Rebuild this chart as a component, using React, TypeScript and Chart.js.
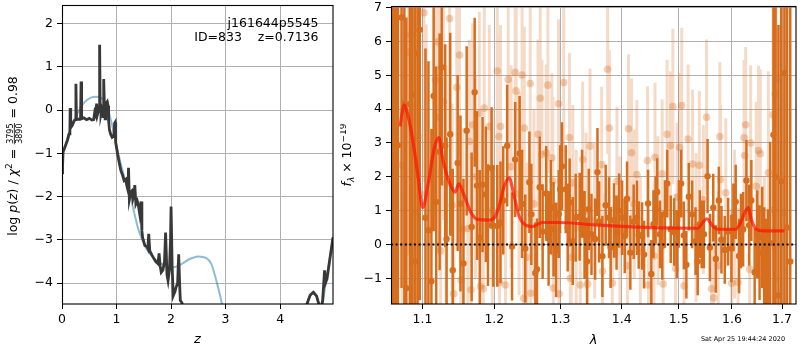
import React, { useEffect, useRef } from 'react';
import { Chart, registerables } from 'chart.js';

Chart.register(...registerables);

// ---------------- Left panel: log p(z) ----------------
const leftXTicks = [0, 1, 2, 3, 4];
const leftYTicks = [-4, -3, -2, -1, 0, 1, 2];

const pzZ = [
  0.00, 0.01, 0.02, 0.04, 0.07, 0.10, 0.13, 0.145, 0.15, 0.16,
  0.19, 0.22, 0.245, 0.255, 0.265, 0.29, 0.34, 0.35, 0.36, 0.40,
  0.45, 0.50, 0.55, 0.58, 0.60, 0.62, 0.635, 0.65, 0.67, 0.685,
  0.69, 0.70, 0.715, 0.73, 0.755, 0.765, 0.78, 0.79, 0.80, 0.83,
  0.845, 0.855, 0.87, 0.89, 0.92, 0.95, 0.965, 0.975, 0.985, 1.02,
  1.05, 1.08, 1.11, 1.14, 1.17, 1.19, 1.21, 1.22, 1.235, 1.26,
  1.28, 1.30, 1.32, 1.335, 1.355, 1.38, 1.40, 1.425, 1.45, 1.465,
  1.48, 1.52, 1.555, 1.575, 1.59, 1.61, 1.65, 1.68, 1.72, 1.76,
  1.78, 1.80, 1.82, 1.85, 1.88, 1.90, 1.925, 1.945, 1.97, 1.99,
  2.00, 2.02, 2.04, 2.07, 2.09, 2.12, 2.14, 2.16, 2.17, 2.20,
  2.22, 2.30, 2.50, 3.50, 4.30, 4.45, 4.50, 4.55, 4.61, 4.67,
  4.71, 4.75, 4.78, 4.80, 4.815, 4.83, 4.86, 4.90, 4.94, 4.97,
];
const pzLog = [
  -1.45, -1.30, -0.95, -0.90, -0.80, -0.70, -0.55, -0.45, 0.05, -0.40,
  -0.35, -0.25, -0.22, 0.61, -0.20, -0.21, -0.20, 0.66, -0.20, -0.18,
  -0.22, -0.19, -0.23, -0.22, -0.05, -0.12, 0.15, -0.10, 0.00, 0.05,
  1.51, 0.10, -0.09, 0.00, -0.15, 0.72, -0.05, -0.20, 0.15, 0.20,
  0.10, -0.25, -0.45, -0.55, -0.63, -0.60, -0.30, -0.28, -0.75, -1.02,
  -1.22, -1.40, -1.50, -1.63, -1.60, -1.75, -1.85, -1.33, -2.06, -1.90,
  -1.87, -2.05, -1.95, -1.73, -2.17, -2.10, -2.20, -2.40, -2.11, -2.79,
  -2.95, -3.13, -3.15, -3.20, -2.86, -3.25, -3.35, -3.42, -3.50, -3.55,
  -3.31, -3.60, -3.75, -3.70, -3.50, -2.83, -3.80, -3.94, -3.70, -3.00,
  -2.23, -3.60, -4.29, -4.20, -4.10, -4.00, -3.33, -4.10, -4.40, -4.45,
  -4.60, -5.20, -6.00, -7.00, -6.00, -4.75, -4.45, -4.28, -4.21, -4.30,
  -4.48, -4.60, -4.40, -4.00, -3.70, -4.00, -3.90, -3.55, -3.20, -2.94,
];

const fitZ = [
  0, 0.08, 0.165, 0.29, 0.41, 0.53, 0.64, 0.75, 0.84, 0.93,
  1.02, 1.145, 1.24, 1.33, 1.39, 1.43, 1.55, 1.70, 1.85, 2.04,
  2.19, 2.34, 2.50, 2.65, 2.74, 2.83, 2.92, 2.98, 3.05, 3.20,
  4.30, 4.40, 4.48, 4.54, 4.61, 4.67, 4.73, 4.76, 4.80, 4.86,
  4.92, 4.97,
];
const fitLog = [
  -1.10, -0.72, -0.40, -0.06, 0.18, 0.29, 0.31, 0.25, 0.02, -0.40,
  -0.94, -1.56, -1.94, -2.40, -2.71, -2.86, -3.21, -3.44, -3.57, -3.63,
  -3.56, -3.44, -3.38, -3.42, -3.56, -3.94, -4.40, -4.80, -5.40, -6.50,
  -6.00, -5.00, -4.60, -4.32, -4.20, -4.32, -4.56, -4.58, -4.30, -3.80,
  -3.35, -2.94,
];

// ---------------- Right panel: spectrum ----------------
const rightXTicks = [1.1, 1.2, 1.3, 1.4, 1.5, 1.6, 1.7];
const rightYTicks = [-1, 0, 1, 2, 3, 4, 5, 6, 7];

const darkLam = [
  1.0616, 1.0646, 1.0678, 1.0725, 1.0762, 1.0788, 1.0833, 1.0863, 1.0898, 1.0934,
  1.0964, 1.1040, 1.1080, 1.1120, 1.1150, 1.1185, 1.1231, 1.1259, 1.1307, 1.1326,
  1.1376, 1.1411, 1.1479, 1.1518, 1.1560, 1.1605, 1.1675, 1.1718, 1.1751, 1.1790,
  1.1830, 1.1878, 1.1908, 1.1960, 1.1985, 1.2043, 1.2090, 1.2130, 1.2188, 1.2260,
  1.2307, 1.2373, 1.2410, 1.2458, 1.2521, 1.2550, 1.2611, 1.2636, 1.2678, 1.2723,
  1.2778, 1.2815, 1.2850, 1.2892, 1.2932, 1.2974, 1.2995, 1.3025, 1.3084, 1.3115,
  1.3146, 1.3195, 1.3242, 1.3306, 1.3345, 1.3385, 1.3425, 1.3454, 1.3498, 1.3557,
  1.3596, 1.3623, 1.3677, 1.3732, 1.3788, 1.3815, 1.3871, 1.3914, 1.3958, 1.4007,
  1.4053, 1.4092, 1.4148, 1.4205, 1.4263, 1.4292, 1.4350, 1.4385, 1.4455, 1.4512,
  1.4550, 1.4588, 1.4616, 1.4665, 1.4706, 1.4754, 1.4795, 1.4857, 1.4918, 1.4966,
  1.5004, 1.5046, 1.5095, 1.5141, 1.5186, 1.5247, 1.5310, 1.5350, 1.5390, 1.5424,
  1.5466, 1.5535, 1.5578, 1.5642, 1.5691, 1.5748, 1.5798, 1.5861, 1.5926, 1.5990,
  1.6028, 1.6073, 1.6139, 1.6175, 1.6218, 1.6283, 1.6336, 1.6380, 1.6446, 1.6498,
  1.6544, 1.6597, 1.6637, 1.6677, 1.6711, 1.6757, 1.6824, 1.6868, 1.6926, 1.6982,
  1.7049, 1.7104, 1.7170,
];
const darkFlux = [
  1.50, 3.50, 2.93, 6.71, 4.17, -1.29, 4.15, 4.44, -0.50, 5.65,
  6.35, 0.79, 0.42, -1.09, 4.39, 1.26, 2.74, 5.24, 2.92, 0.16,
  3.26, -0.76, 2.41, 1.21, -0.56, 3.36, 0.52, 4.50, 1.74, 0.20,
  1.77, 1.48, 0.57, 2.26, 0.55, 0.55, 0.65, 1.30, 2.92, -0.06,
  2.51, 2.69, 1.20, -0.12, 1.84, 0.89, -0.84, -0.73, 1.69, 0.38,
  1.51, 0.18, 1.10, 0.45, -0.16, 0.90, 1.63, 2.31, 1.63, 0.50,
  1.24, 0.10, 0.79, 0.82, 1.50, 0.28, -0.50, 1.04, 0.30, 0.16,
  2.14, 0.67, -0.35, 1.16, 0.79, -0.09, 0.71, 0.35, 1.00, 0.79,
  0.25, 1.35, -0.24, 0.67, 0.79, 0.28, 0.25, -0.30, 1.21, -0.87,
  0.60, 1.02, 1.55, 0.30, -0.04, 0.90, 1.80, 0.45, 0.37, 0.01,
  0.90, 1.80, 0.27, -0.60, 1.41, 0.89, 0.10, -0.50, 0.60, 0.30,
  0.30, 2.02, -0.09, 1.09, -0.43, 1.30, 0.14, -0.16, 0.38, -0.12,
  0.80, 1.26, -0.34, 0.40, 0.45, 1.89, 0.57, 1.30, -0.82, 0.30,
  -0.24, 0.21, -0.50, -1.24, -1.46, 0.04, 3.24, 2.00, -1.51, 1.87,
  5.06, 0.50, -0.50,
];
const darkErr = [
  9, 8, 8, 8, 8, 8, 8, 8, 8, 8,
  8, 5, 5, 4.5, 4, 4, 3.5, 3.5, 3, 3,
  3, 3, 2.6, 2.6, 2.5, 2.5, 2.2, 2.2, 2.2, 2,
  2, 2, 1.8, 1.8, 1.8, 1.8, 1.8, 1.6, 1.8, 1.6,
  1.7, 1.7, 1.6, 1.6, 1.5, 1.5, 1.5, 1.5, 1.5, 1.4,
  1.4, 1.4, 1.4, 1.4, 1.4, 1.3, 1.3, 1.3, 1.3, 1.3,
  1.3, 1.3, 1.3, 1.3, 1.3, 1.3, 1.3, 1.2, 1.2, 1.2,
  1.3, 1.2, 1.2, 1.2, 1.2, 1.2, 1.1, 1.1, 1.1, 1.1,
  1.1, 1.1, 1.1, 1.1, 1.1, 1.0, 1.0, 1.0, 1.0, 1.0,
  1.0, 1.0, 1.0, 1.0, 1.0, 1.0, 1.0, 1.0, 1.0, 1.0,
  1.0, 1.0, 1.0, 1.0, 1.0, 1.0, 1.0, 1.0, 1.0, 1.0,
  1.0, 1.1, 1.0, 1.0, 1.0, 1.0, 1.0, 1.0, 1.0, 1.0,
  1.0, 1.1, 1.1, 1.1, 1.1, 1.2, 1.2, 1.2, 1.3, 1.3,
  1.4, 1.5, 1.6, 2, 2.5, 3, 6, 6, 8, 8,
  8, 9, 9,
];

const lightLam = [
  1.0616, 1.0734, 1.0818, 1.0845, 1.0905, 1.0942, 1.1021, 1.1050, 1.1172, 1.1198,
  1.1220, 1.1245, 1.1283, 1.1320, 1.1367, 1.1403, 1.1425, 1.1466, 1.1504, 1.1525,
  1.1550, 1.1620, 1.1643, 1.1667, 1.1690, 1.1730, 1.1784, 1.1800, 1.1841, 1.1855,
  1.1927, 1.1970, 1.2043, 1.2067, 1.2075, 1.2090, 1.2163, 1.2203, 1.2247, 1.2307,
  1.2321, 1.2365, 1.2410, 1.2434, 1.2443, 1.2484, 1.2533, 1.2540, 1.2590, 1.2651,
  1.2686, 1.2712, 1.2778, 1.2804, 1.2865, 1.2881, 1.2888, 1.2970, 1.2980, 1.3052,
  1.3143, 1.3155, 1.3170, 1.3196, 1.3250, 1.3316, 1.3355, 1.3410, 1.3436, 1.3474,
  1.3550, 1.3665, 1.3680, 1.3765, 1.3793, 1.3844, 1.3921, 1.3970, 1.4100, 1.4117,
  1.4168, 1.4216, 1.4260, 1.4320, 1.4445, 1.4463, 1.4559, 1.4577, 1.4630, 1.4704,
  1.4722, 1.4792, 1.4852, 1.4896, 1.4944, 1.4973, 1.5016, 1.5056, 1.5100, 1.5173,
  1.5255, 1.5320, 1.5381, 1.5455, 1.5516, 1.5610, 1.5650, 1.5736, 1.5767, 1.5780,
  1.5881, 1.5995, 1.6050, 1.6119, 1.6236, 1.6248, 1.6268, 1.6346, 1.6366, 1.6478,
  1.6524, 1.6558, 1.6640, 1.6720, 1.6818, 1.6832, 1.6859, 1.6879, 1.7026,
];
const lightFlux = [
  1.30, 2.34, 5.68, 6.20, 0.94, 3.19, 6.85, 1.50, 4.86, 5.99,
  3.76, -0.19, 4.22, 1.80, 6.68, 1.16, -1.46, 4.65, 5.60, -1.05,
  0.45, 0.47, 3.05, -1.34, 3.54, 2.00, 3.88, -1.24, -1.31, 4.03,
  3.49, 1.00, 5.13, 3.19, -1.12, 3.49, -1.20, 4.88, 2.30, 5.09,
  4.54, 1.50, 5.01, -1.59, 3.44, -0.38, 4.76, -1.44, 1.20, 3.26,
  4.32, 2.66, 2.71, 4.71, 2.56, 1.87, -1.29, 4.16, -1.46, 4.79,
  3.16, -1.00, -0.38, 1.82, 0.50, -1.20, 2.51, 1.00, -1.17, 2.90,
  0.70, 2.36, -0.79, 5.18, 3.44, -1.14, 1.87, 0.40, -0.63, 3.42,
  2.71, 1.20, 2.07, -0.20, 2.48, -1.20, -0.34, 2.58, 1.00, 2.09,
  -1.17, 3.26, 2.92, 4.08, -0.71, 1.40, 2.87, 4.11, -1.22, 3.12,
  2.38, 0.50, 2.34, 1.33, 3.76, -1.31, -1.58, -0.63, 3.19, 1.92,
  1.53, -1.15, 0.60, -1.12, 3.15, 2.63, 3.54, -0.73, 3.00, 1.72,
  2.78, 2.68, -1.00, 2.12, 3.83, 1.02, 4.45, 4.88, 0.94,
];
const lightErr = [
  6, 6, 6, 6, 6, 6, 5, 5, 4, 4,
  4, 4, 3.5, 3.5, 3.5, 3, 3, 3, 3, 3,
  3, 3, 3, 3, 3, 3, 3, 3, 3, 3,
  3, 3, 3, 3, 3, 3, 3, 3, 3, 3,
  3, 3, 3, 3, 3, 2.8, 3, 2.8, 2.8, 2.8,
  2.8, 2.8, 2.6, 2.6, 2.5, 2.5, 2.5, 2.5, 2.5, 2.5,
  2.5, 2.5, 2.3, 2.3, 2.3, 2.3, 2.3, 2.3, 2.3, 2.3,
  2.3, 2.3, 2.3, 2.5, 2.3, 2.3, 2.2, 2.2, 2.2, 2.2,
  2.2, 2.2, 2.2, 2.2, 2.2, 2.2, 2.2, 2.2, 2.2, 2.2,
  2.2, 2.2, 2.2, 2.3, 2.2, 2.2, 2.2, 2.3, 2.2, 2.2,
  2.2, 2.2, 2.2, 2.2, 2.3, 2.2, 2.2, 2.2, 2.2, 2.2,
  2.2, 2.2, 2.2, 2.2, 2.3, 2.3, 2.3, 2.3, 2.3, 2.5,
  2.5, 2.5, 3, 3, 4, 4, 5, 6, 4,
];

const modelLam = [
  1.0704, 1.0760, 1.0815, 1.0870, 1.0935, 1.1004, 1.1070, 1.1164, 1.1220, 1.1275,
  1.1367, 1.1444, 1.1494, 1.1573, 1.1667, 1.1760, 1.1927, 1.1999, 1.2071, 1.2144,
  1.2217, 1.2291, 1.2365, 1.2464, 1.2565, 1.2717, 1.2974, 1.3612, 1.4500, 1.5350,
  1.5442, 1.5520, 1.5629, 1.5723, 1.6070, 1.6170, 1.6250, 1.6320, 1.6380, 1.6480,
  1.6610, 1.7049,
];
const modelFlux = [
  3.49, 4.12, 3.75, 3.10, 2.12, 1.09, 1.72, 2.90, 3.16, 2.51,
  1.82, 1.55, 1.79, 1.43, 0.94, 0.74, 0.72, 0.79, 1.14, 1.72,
  1.97, 1.43, 0.84, 0.57, 0.53, 0.65, 0.65, 0.57, 0.50, 0.48,
  0.65, 0.76, 0.55, 0.45, 0.45, 0.65, 0.94, 1.09, 0.74, 0.45,
  0.40, 0.40,
];

// ---------------- helpers ----------------
const FONT = 'DejaVu Sans';
const ORANGE = 'rgb(215,110,30)';
const ORANGE_LIGHT = 'rgba(215,110,30,0.25)';
const ORANGE_LIGHT_PT = 'rgba(215,110,30,0.33)';
const fmt = (v: number) => String(v).replace('-', '\u2212');

function pts(xs: number[], ys: number[]) {
  return xs.map((x, i) => ({ x, y: ys[i] }));
}
function errorSegments(lam: number[], flux: number[], err: number[]) {
  const out: any[] = [];
  lam.forEach((l, i) => {
    out.push({ x: l, y: flux[i] - err[i] }, { x: l, y: flux[i] + err[i] }, { x: l, y: null });
  });
  return out;
}

type Part = { t?: string; font: string; dy?: number; frac?: [string, string] };
function drawRotated(ctx: CanvasRenderingContext2D, parts: Part[], bx: number, cy: number) {
  ctx.save();
  ctx.translate(bx, cy);
  ctx.rotate(-Math.PI / 2);
  ctx.textBaseline = 'alphabetic';
  ctx.fillStyle = '#000';
  const widths = parts.map((p) => {
    ctx.font = p.font;
    if (p.frac) return Math.max(ctx.measureText(p.frac[0]).width, ctx.measureText(p.frac[1]).width) + 2;
    return ctx.measureText(p.t || '').width;
  });
  const total = widths.reduce((a, b) => a + b, 0);
  let x = -total / 2;
  parts.forEach((p, i) => {
    ctx.font = p.font;
    const w = widths[i];
    if (p.frac) {
      ctx.textAlign = 'center';
      ctx.fillText(p.frac[0], x + w / 2, -3.8);
      ctx.fillText(p.frac[1], x + w / 2, 5.4);
      ctx.fillRect(x + 0.5, -2.6, w - 1, 0.8);
      ctx.textAlign = 'left';
    } else {
      ctx.textAlign = 'left';
      ctx.fillText(p.t || '', x, p.dy || 0);
    }
    x += w;
  });
  ctx.restore();
}

function drawFrame(ctx: CanvasRenderingContext2D, a: any) {
  ctx.save();
  ctx.strokeStyle = '#000';
  ctx.lineWidth = 1.1;
  ctx.strokeRect(a.left + 0.5, a.top + 0.5, a.right - a.left - 0.5, a.bottom - a.top - 0.5);
  ctx.restore();
}

const leftDecor = {
  id: 'leftDecor',
  afterDraw(chart: any) {
    const { ctx, chartArea: a } = chart;
    drawFrame(ctx, a);
    ctx.save();
    ctx.fillStyle = '#000';
    ctx.font = `12.5px ${FONT}`;
    ctx.textAlign = 'right';
    ctx.textBaseline = 'middle';
    ctx.fillText('j161644p5545', 318.5, 23.5);
    ctx.fillText('ID=833    z=0.7136', 318.5, 37.5);
    ctx.font = `italic 13px ${FONT}`;
    ctx.textAlign = 'center';
    ctx.fillText('z', (a.left + a.right) / 2, 340);
    ctx.restore();
    const n = `12.5px ${FONT}`;
    const it = `italic 12.5px ${FONT}`;
    drawRotated(
      ctx,
      [
        { t: 'log ', font: n },
        { t: 'p', font: it },
        { t: '(', font: n },
        { t: 'z', font: it },
        { t: ') / ', font: n },
        { t: '\u03c7', font: it },
        { t: '2', font: `9px ${FONT}`, dy: -5 },
        { t: ' = ', font: n },
        { frac: ['3795', '3890'], font: `8px ${FONT}` },
        { t: ' = 0.98', font: n },
      ],
      16.5,
      156
    );
  },
};

const rightDecor = {
  id: 'rightDecor',
  afterDraw(chart: any) {
    const { ctx, chartArea: a } = chart;
    drawFrame(ctx, a);
    ctx.save();
    ctx.fillStyle = '#000';
    ctx.font = `italic 13px ${FONT}`;
    ctx.textAlign = 'center';
    ctx.textBaseline = 'middle';
    ctx.fillText('\u03bb', (a.left + a.right) / 2, 341);
    ctx.font = `6.5px ${FONT}`;
    ctx.fillText('Sat Apr 25 19:44:24 2020', 403, 339);
    ctx.restore();
    drawRotated(
      ctx,
      [
        { t: 'f', font: `italic 12.5px ${FONT}` },
        { t: '\u03bb', font: `italic 9px ${FONT}`, dy: 3 },
        { t: ' \u00d7 10', font: `12.5px ${FONT}` },
        { t: '\u221219', font: `9px ${FONT}`, dy: -5 },
      ],
      11,
      155
    );
  },
};

function axisCommon(ticks: number[], formatter: (v: number) => string) {
  return {
    bounds: 'data',
    afterBuildTicks: (s: any) => {
      s.ticks = ticks.map((v) => ({ value: v }));
    },
    grid: { color: '#b0b0b0', lineWidth: 1, tickLength: 5, tickColor: '#000', tickWidth: 1, drawTicks: true },
    border: { display: false },
    ticks: {
      font: { family: FONT, size: 12.5 },
      color: '#000',
      autoSkip: false,
      maxRotation: 0,
      minRotation: 0,
      callback: (v: any) => formatter(Number(v)),
    },
  };
}

export default function App() {
  const leftRef = useRef<HTMLCanvasElement>(null);
  const rightRef = useRef<HTMLCanvasElement>(null);

  useEffect(() => {
    Chart.defaults.font.family = FONT;
    const lx = axisCommon(leftXTicks, fmt);
    const ly = axisCommon(leftYTicks, fmt);
    const c1 = new Chart(leftRef.current as HTMLCanvasElement, {
      type: 'line',
      data: {
        datasets: [
          {
            data: pts(pzZ, pzLog),
            borderColor: '#383838',
            borderWidth: 2.8,
            pointRadius: 0,
            tension: 0,
            clip: 0,
            order: 0,
          },
          {
            data: pts(fitZ, fitLog),
            borderColor: 'rgba(31,119,180,0.5)',
            borderWidth: 2,
            pointRadius: 0,
            tension: 0.4,
            cubicInterpolationMode: 'monotone',
            clip: 0,
            order: 1,
          },
        ],
      } as any,
      options: {
        responsive: false,
        animation: false,
        devicePixelRatio: 1,
        events: [],
        layout: { padding: { left: 0, right: 7, top: 5, bottom: 0 } },
        plugins: { legend: { display: false }, tooltip: { enabled: false } },
        scales: {
          x: {
            type: 'linear',
            min: 0,
            max: 4.97,
            ...lx,
            ticks: { ...lx.ticks, padding: 3 },
            afterFit: (s: any) => {
              s.height = 46;
              s.paddingLeft = 0;
              s.paddingRight = 0;
            },
          },
          y: {
            type: 'linear',
            min: -4.48,
            max: 2.43,
            ...ly,
            ticks: { ...ly.ticks, padding: 4 },
            afterFit: (s: any) => {
              s.width = 62;
              s.paddingTop = 0;
              s.paddingBottom = 0;
            },
          },
        },
      } as any,
      plugins: [leftDecor],
    });

    const rx = axisCommon(rightXTicks, (v) => v.toFixed(1));
    const ry = axisCommon(rightYTicks, fmt);
    const c2 = new Chart(rightRef.current as HTMLCanvasElement, {
      type: 'line',
      data: {
        datasets: [
          {
            data: pts(modelLam, modelFlux),
            borderColor: 'rgba(255,20,0,0.72)',
            borderWidth: 3.2,
            pointRadius: 0,
            tension: 0.4,
            cubicInterpolationMode: 'monotone',
            clip: 0,
            order: 0,
          },
          {
            data: [
              { x: 1.0589, y: 0 },
              { x: 1.729, y: 0 },
            ],
            borderColor: '#000',
            borderWidth: 2,
            borderDash: [2, 2.6],
            pointRadius: 0,
            clip: 0,
            order: 1,
          },
          {
            data: pts(darkLam, darkFlux),
            showLine: false,
            pointRadius: 3.2,
            pointBorderWidth: 0,
            pointBackgroundColor: ORANGE,
            clip: 0,
            order: 2,
          },
          {
            data: errorSegments(darkLam, darkFlux, darkErr),
            borderColor: ORANGE,
            borderWidth: 2.5,
            pointRadius: 0,
            spanGaps: false,
            clip: 0,
            order: 3,
          },
          {
            data: pts(lightLam, lightFlux),
            showLine: false,
            pointRadius: 3.8,
            pointBorderWidth: 0,
            pointBackgroundColor: ORANGE_LIGHT_PT,
            clip: 0,
            order: 4,
          },
          {
            data: errorSegments(lightLam, lightFlux, lightErr),
            borderColor: ORANGE_LIGHT,
            borderWidth: 3,
            pointRadius: 0,
            spanGaps: false,
            clip: 0,
            order: 5,
          },
        ],
      } as any,
      options: {
        responsive: false,
        animation: false,
        devicePixelRatio: 1,
        events: [],
        layout: { padding: { left: 0, right: 1, top: 6, bottom: 0 } },
        plugins: { legend: { display: false }, tooltip: { enabled: false } },
        scales: {
          x: {
            type: 'logarithmic',
            min: 1.0589,
            max: 1.729,
            ...rx,
            ticks: { ...rx.ticks, padding: 3 },
            afterFit: (s: any) => {
              s.height = 46;
              s.paddingLeft = 0;
              s.paddingRight = 0;
            },
          },
          y: {
            type: 'linear',
            min: -1.76,
            max: 7.05,
            ...ry,
            ticks: { ...ry.ticks, padding: 4 },
            afterFit: (s: any) => {
              s.width = 51;
              s.paddingTop = 0;
              s.paddingBottom = 0;
            },
          },
        },
      } as any,
      plugins: [rightDecor],
    });

    return () => {
      c1.destroy();
      c2.destroy();
    };
  }, []);

  return (
    <div style={{ position: 'fixed', left: 0, top: 0, width: 800, height: 350, background: '#fff' }}>
      <canvas ref={leftRef} width={340} height={350} style={{ position: 'absolute', left: 0, top: 0 }} />
      <canvas ref={rightRef} width={460} height={350} style={{ position: 'absolute', left: 340, top: 0 }} />
    </div>
  );
}
